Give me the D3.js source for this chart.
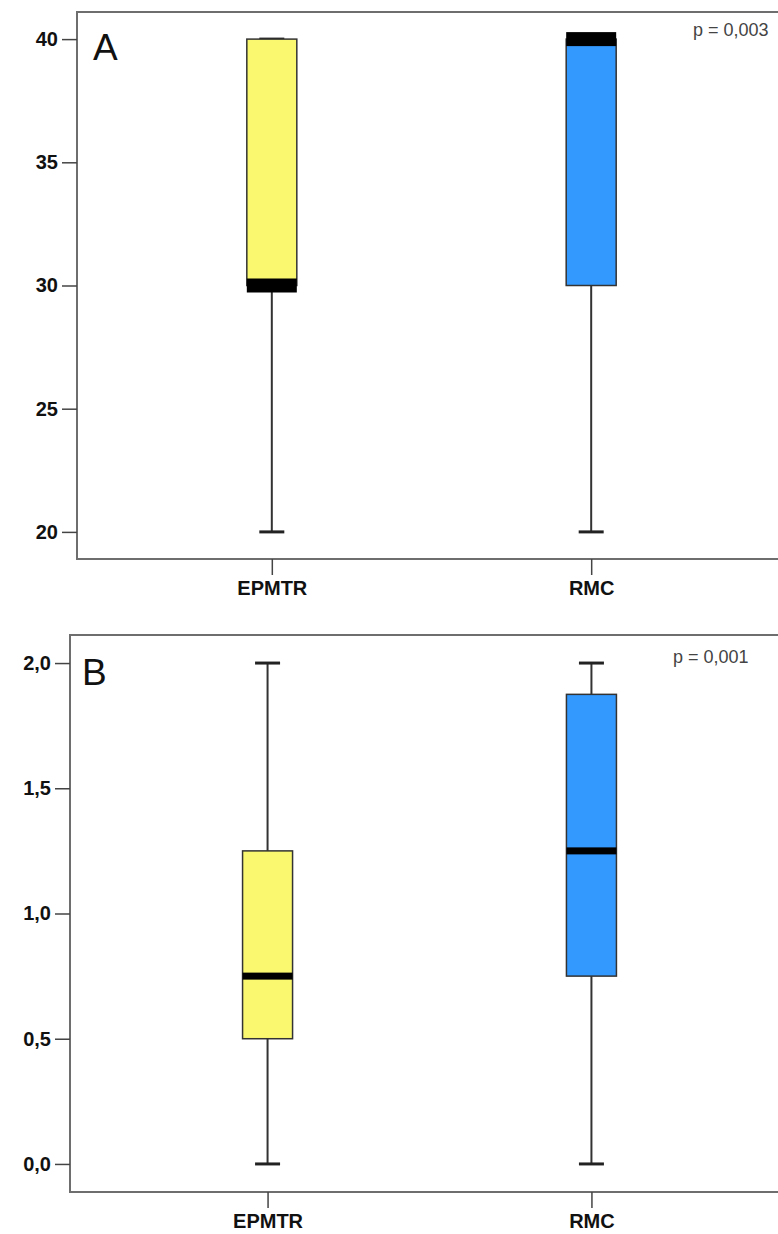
<!DOCTYPE html>
<html><head><meta charset="utf-8">
<script src="https://cdn.jsdelivr.net/npm/d3@7"></script>
<style>body{margin:0;background:#fff}svg{display:block}</style>
</head><body>
<script>
const categories = ["EPMTR", "RMC"];
const colors = ["#faf86f", "#3399ff"];

// Panel A
const ticksA = [20, 25, 30, 35, 40];
const tickLabelsA = ["20", "25", "30", "35", "40"];
const minA = [20, 20];
const q1A = [30, 30];
const medA = [30, 40];
const q3A = [40, 40];
const maxA = [40, 40];
const pA = "p = 0,003";

// Panel B
const ticksB = [0, 0.5, 1, 1.5, 2];
const tickLabelsB = ["0,0", "0,5", "1,0", "1,5", "2,0"];
const minB = [0, 0];
const q1B = [0.5, 0.75];
const medB = [0.75, 1.25];
const q3B = [1.25, 1.875];
const maxB = [2, 2];
const pB = "p = 0,001";

const W = 778, H = 1234;
const svg = d3.select("body").append("svg").attr("width", W).attr("height", H);

function panel(cfg) {
  const g = svg.append("g");
  const x = d3.scalePoint().domain(categories).range([cfg.left, cfg.right]).padding(0.61);
  const y = d3.scaleLinear().domain(cfg.domain).range([cfg.bottom, cfg.top]);

  // frame
  g.append("rect").attr("x", cfg.left).attr("y", cfg.top)
    .attr("width", cfg.right - cfg.left).attr("height", cfg.bottom - cfg.top)
    .attr("fill", "none").attr("stroke", "#6e6e6e").attr("stroke-width", 2);

  // y axis
  const ya = d3.axisLeft(y).tickValues(cfg.ticks).tickFormat((d, i) => cfg.tickLabels[i])
    .tickSize(15).tickPadding(4);
  const yg = g.append("g").attr("transform", `translate(${cfg.left},0)`).call(ya);
  yg.select(".domain").remove();
  yg.selectAll(".tick line").attr("stroke", "#444").attr("stroke-width", 1.5);
  yg.selectAll(".tick text").attr("font-family", "Liberation Sans, Arial, sans-serif")
    .attr("font-size", 20).attr("font-weight", "bold").attr("fill", "#111");

  // x axis
  const xa = d3.axisBottom(x).tickSize(16).tickPadding(6);
  const xg = g.append("g").attr("transform", `translate(0,${cfg.bottom})`).call(xa);
  xg.select(".domain").remove();
  xg.selectAll(".tick line").attr("stroke", "#444").attr("stroke-width", 1.5);
  xg.selectAll(".tick text").attr("font-family", "Liberation Sans, Arial, sans-serif")
    .attr("font-size", 20).attr("font-weight", "bold").attr("fill", "#111");

  const bw = 50, cw = 25;
  categories.forEach((c, i) => {
    const cx = x(c);
    // whisker
    g.append("line").attr("x1", cx).attr("x2", cx)
      .attr("y1", y(cfg.max[i])).attr("y2", y(cfg.min[i]))
      .attr("stroke", "#333").attr("stroke-width", 2);
    [cfg.max[i], cfg.min[i]].forEach(v => {
      g.append("line").attr("x1", cx - cw / 2).attr("x2", cx + cw / 2)
        .attr("y1", y(v)).attr("y2", y(v))
        .attr("stroke", "#222").attr("stroke-width", 3);
    });
    // box
    g.append("rect").attr("x", cx - bw / 2).attr("y", y(cfg.q3[i]))
      .attr("width", bw).attr("height", y(cfg.q1[i]) - y(cfg.q3[i]))
      .attr("fill", colors[i]).attr("stroke", "#333").attr("stroke-width", 1.5);
    // median band
    g.append("rect").attr("x", cx - bw / 2).attr("y", y(cfg.med[i]) - cfg.mw / 2)
      .attr("width", bw).attr("height", cfg.mw).attr("fill", "#000");
  });

  g.append("text").attr("x", cfg.left + cfg.letterDx).attr("y", cfg.top + cfg.letterDy)
    .attr("font-family", "Liberation Sans, Arial, sans-serif").attr("font-size", 37)
    .attr("fill", "#111").text(cfg.letter);
  g.append("text").attr("x", cfg.pX).attr("y", cfg.pY)
    .attr("font-family", "Liberation Sans, Arial, sans-serif").attr("font-size", 18)
    .attr("fill", "#444").text(cfg.p);
}

panel({left: 77, right: 786, top: 12, bottom: 559, domain: [18.9, 41.1],
  ticks: ticksA, tickLabels: tickLabelsA, min: minA, q1: q1A, med: medA, q3: q3A, max: maxA,
  mw: 14, letter: "A", letterDx: 16, letterDy: 48, p: pA, pX: 693, pY: 36});

panel({left: 70, right: 789, top: 635, bottom: 1192, domain: [-0.112, 2.112],
  ticks: ticksB, tickLabels: tickLabelsB, min: minB, q1: q1B, med: medB, q3: q3B, max: maxB,
  mw: 7, letter: "B", letterDx: 12, letterDy: 50, p: pB, pX: 673, pY: 663});
</script>
</body></html>
